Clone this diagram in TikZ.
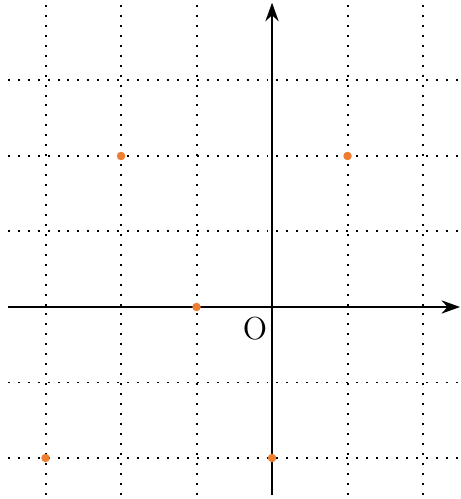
\documentclass[tikz,border=0pt]{standalone}
\usetikzlibrary{arrows.meta}
\definecolor{ptorange}{HTML}{ED7D31}
\begin{document}
\begin{tikzpicture}[
  gridline/.style={line width=0.75pt, dash pattern=on 0.75pt off 3.0pt, black},
  axisline/.style={line width=0.75pt, -{Stealth[length=7pt,width=5pt]}},
  ptdot/.style={circle, fill=ptorange, inner sep=0pt, minimum size=3.2pt}
]
\useasboundingbox (-3.603,-2.543) rectangle (2.490,4.066);
% grid
\foreach \x in {-3,-2,-1,1,2} \draw[gridline] (\x,4.0) -- (\x,-2.543);
\foreach \y in {-2,-1,1,2,3} \draw[gridline] (-3.5,\y) -- (2.49,\y);
% axes
\coordinate (xs) at (-3.5,0);
\coordinate (xe) at (2.49,0);
\coordinate (ys) at (0,-2.49);
\coordinate (ye) at (0,4.03);
\draw[axisline] (xs) -- (xe);
\draw[axisline] (ys) -- (ye);
\node[font=\large, inner sep=0pt] (o) at (-0.225,-0.28) {O};
% points
\node[ptdot] (p1) at (-2,2) {};
\node[ptdot] (p2) at (1,2) {};
\node[ptdot] (p3) at (-1,0) {};
\node[ptdot] (p4) at (-3,-2) {};
\node[ptdot] (p5) at (0,-2) {};
\end{tikzpicture}
\end{document}
